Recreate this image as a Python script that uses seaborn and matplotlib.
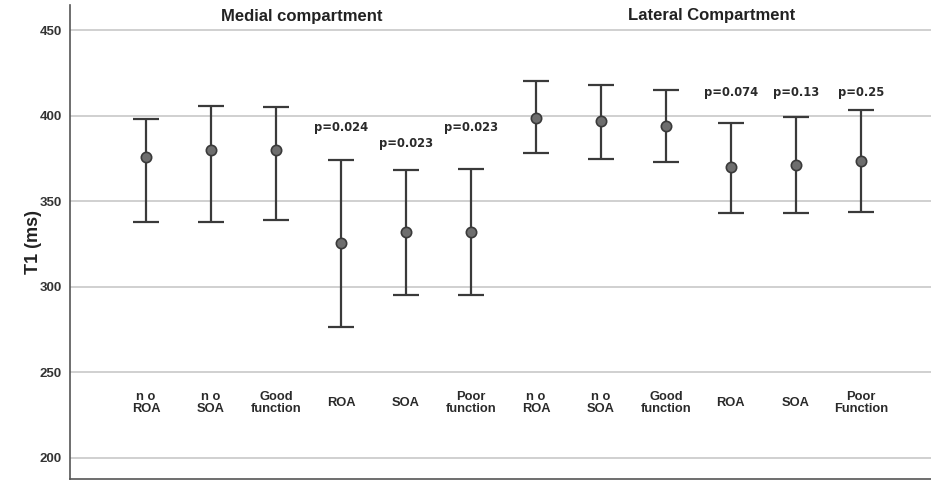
import matplotlib
matplotlib.use("Agg")
import matplotlib.pyplot as plt
import seaborn as sns
import pandas as pd
import numpy as np

label_text = ["n o\nROA", "n o\nSOA", "Good\nfunction", "ROA", "SOA", "Poor\nfunction",
              "n o\nROA", "n o\nSOA", "Good\nfunction", "ROA", "SOA", "Poor\nFunction"]
means = [376, 380, 380, 325.8, 332, 331.8, 399, 397, 393.8, 369.8, 371.4, 373.7]
upper = [398, 405.5, 405, 374, 368.4, 368.8, 420.5, 417.8, 415, 396, 399.2, 403.6]
lower = [338, 338, 339, 276.7, 295.4, 294.9, 378, 375, 372.7, 343.4, 343.4, 343.6]
pvals = ["", "", "", "p=0.024", "p=0.023", "p=0.023", "", "", "", "p=0.074", "p=0.13", "p=0.25"]
pval_y = [0, 0, 0, 393, 384, 393, 0, 0, 0, 413.5, 413.5, 413.5]
sections = ["Medial compartment", "Lateral Compartment"]
yticks = [200, 250, 300, 350, 400, 450]

sns.set_style("white")
plt.rcParams['font.family'] = ['Liberation Sans', 'DejaVu Sans']

df = pd.DataFrame({"pos": np.arange(len(means)), "mean": means,
                   "lo": lower, "hi": upper})

fig = plt.figure(figsize=(9.31, 4.8), dpi=100)
ax = fig.add_axes([0.0752, 0.003, 0.9248, 0.987])

for yt in yticks:
    ax.axhline(yt, color="#c8c8c8", lw=1.2, zorder=0)

ax.errorbar(df["pos"], df["mean"],
            yerr=[df["mean"] - df["lo"], df["hi"] - df["mean"]],
            fmt="none", ecolor="#3a3a3a", elinewidth=1.6, capsize=9.5, capthick=1.6, zorder=2)
sns.scatterplot(data=df, x="pos", y="mean", ax=ax, s=55, color="#6e6e6e",
                edgecolor="#3a3a3a", linewidth=1.2, zorder=3, legend=False)

for i, t in enumerate(label_text):
    ax.text(i, 232, t, ha="center", va="center", fontsize=9.3, fontweight="bold",
            color="#2a2a2a", linespacing=0.95)
for i, p in enumerate(pvals):
    if p:
        ax.text(i, pval_y[i], p, ha="center", va="center",
                fontsize=8.3, fontweight="bold", color="#2a2a2a",
                family=["DejaVu Sans"])

ax.text(2.4, 458, sections[0], ha="center", va="center", fontsize=12, fontweight="bold", color="#222222")
ax.text(8.7, 459, sections[1], ha="center", va="center", fontsize=12, fontweight="bold", color="#222222")

ax.set_xlim(-1.17, 12.08)
ax.set_ylim(187.7, 465)
ax.set_yticks(yticks)
ax.set_yticklabels([str(v) for v in yticks], fontsize=9.5, fontweight="bold", color="#333333")
ax.set_xticks([])
ax.tick_params(axis="y", length=0, pad=6)
ax.set_xlabel("")
ax.set_ylabel("T1 (ms)", fontsize=13, fontweight="bold", color="#222222", labelpad=-2)
for s in ["top", "right"]:
    ax.spines[s].set_visible(False)
for s in ["left", "bottom"]:
    ax.spines[s].set_color("#555555")
    ax.spines[s].set_linewidth(1.2)

fig.savefig("out.png", dpi=100)
